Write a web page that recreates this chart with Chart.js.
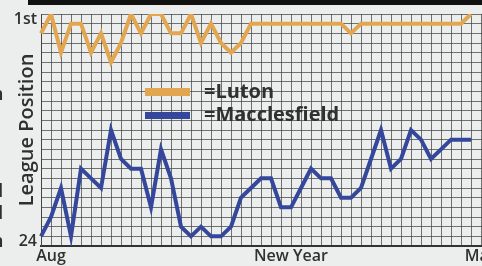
<!DOCTYPE html>
<html>
<head>
<meta charset="utf-8">
<script src="https://cdn.jsdelivr.net/npm/chart.js"></script>
<style>
  html, body { margin: 0; padding: 0; background: #eceeee; overflow: hidden; }
  #wrap { position: relative; width: 482px; height: 266px; overflow: hidden; }
  canvas { position: absolute; left: 0; top: 0; }
</style>
</head>
<body>
<div id="wrap"><canvas id="grafic" width="510" height="266"></canvas></div>
<script>
// match number along the season (extra slots so the grid runs off the page)
const meciuri = [1, 2, 3, 4, 5, 6, 7, 8, 9, 10, 11, 12, 13, 14, 15, 16, 17, 18, 19, 20,
  21, 22, 23, 24, 25, 26, 27, 28, 29, 30, 31, 32, 33, 34, 35, 36, 37, 38, 39, 40,
  41, 42, 43, 44, 45, 46, 47];

// league position after each match
const luton = [3, 1, 5, 2, 2, 5, 3, 6, 4, 1, 3, 1, 1, 3, 3, 1, 4, 2, 4, 5, 4, 2,
  2, 2, 2, 2, 2, 2, 2, 2, 2, 3, 2, 2, 2, 2, 2, 2, 2, 2, 2, 2, 2, 1];
const macclesfield = [24, 22, 19, 24, 17, 18, 19, 13, 16, 17, 17, 21, 15, 18, 23, 24, 23, 24, 24, 23, 20, 19,
  18, 18, 21, 21, 19, 17, 18, 18, 20, 20, 19, 16, 13, 17, 16, 13, 14, 16, 15, 14, 14, 14];

// x tick labels by category index
const eticheteX = { 1: 'Aug', 25: 'New Year', 44: 'May' };
// y tick labels by league position
const eticheteY = { 1: '1st', 24: '24' };

const culoareLuton = '#e2a650';
const culoareMacc = '#34479b';
const culoareText = '#303030';

// legend, top bar and the clipped letters from the next column
const decor = {
  id: 'decor',
  beforeDraw(chart) {
    const { ctx } = chart;
    ctx.save();
    ctx.fillStyle = '#111';
    ctx.fillRect(28, 0, 500, 5);
    ctx.fillStyle = culoareText;
    ctx.font = '600 18px "Open Sans"';
    ctx.textBaseline = 'alphabetic';
    ctx.fillText('n', -8, 100);
    ctx.fillText('d', -8, 197);
    ctx.fillText('d', -8, 219);
    ctx.fillText('n', -8, 247);
    ctx.restore();
  },
  afterDatasetsDraw(chart) {
    const { ctx } = chart;
    ctx.save();
    ctx.fillStyle = culoareLuton;
    ctx.fillRect(145, 88, 45, 8);
    ctx.fillStyle = culoareMacc;
    ctx.fillRect(145, 112, 45, 7);
    ctx.fillStyle = culoareText;
    ctx.font = 'bold 20px "Open Sans"';
    ctx.textBaseline = 'alphabetic';
    ctx.fillText('=Luton', 204, 98);
    ctx.fillText('=Macclesfield', 204, 121);
    ctx.restore();
  }
};

new Chart(document.getElementById('grafic'), {
  type: 'line',
  data: {
    labels: meciuri,
    datasets: [
      {
        label: 'Luton',
        data: luton,
        borderColor: culoareLuton,
        borderWidth: 4,
        pointRadius: 0,
        tension: 0
      },
      {
        label: 'Macclesfield',
        data: macclesfield,
        borderColor: culoareMacc,
        borderWidth: 4,
        pointRadius: 0,
        tension: 0
      }
    ]
  },
  options: {
    responsive: false,
    animation: false,
    layout: { padding: { top: 14, left: 0, right: 9, bottom: 0 } },
    plugins: {
      legend: { display: false },
      tooltip: { enabled: false }
    },
    scales: {
      x: {
        type: 'category',
        grid: { color: 'rgba(70,70,70,0.75)', lineWidth: 1, drawTicks: false },
        border: { color: '#333', width: 2 },
        ticks: {
          autoSkip: false,
          maxRotation: 0,
          padding: 1,
          color: culoareText,
          font: { family: 'Open Sans', size: 16, weight: '600' },
          callback: (v, i) => eticheteX[i] || ''
        },
        afterFit: (scale) => { scale.height = 20; }
      },
      y: {
        type: 'linear',
        reverse: true,
        min: 1,
        max: 25,
        grid: { color: 'rgba(70,70,70,0.75)', lineWidth: 1, drawTicks: false },
        border: { color: '#444', width: 1 },
        ticks: {
          stepSize: 1,
          autoSkip: false,
          padding: 4,
          labelOffset: 5,
          color: culoareText,
          font: { family: 'Open Sans', size: 16, weight: '600' },
          callback: (v) => eticheteY[v] || ''
        },
        title: {
          display: true,
          text: 'League Position',
          color: culoareText,
          font: { family: 'Open Sans', size: 20, weight: '600' },
          padding: { top: 15, bottom: 0 }
        },
        afterFit: (scale) => { scale.width = 41; }
      }
    }
  },
  plugins: [decor]
});
</script>
</body>
</html>
